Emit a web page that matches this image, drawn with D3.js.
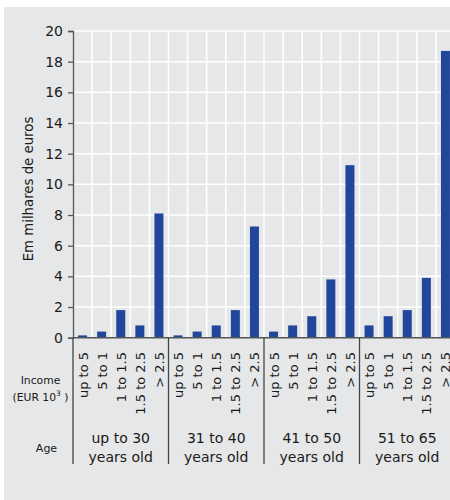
<!DOCTYPE html>
<html>
<head>
<meta charset="utf-8">
<script src="https://cdn.jsdelivr.net/npm/d3@7"></script>
<style>
  body { margin: 0; background: #fff; }
  svg text { font-family: "DejaVu Sans", sans-serif; fill: #1a1a1a; }
</style>
</head>
<body>
<div id="chart"></div>
<script>
// data
var incomeClasses = ['up to 5', '5 to 1', '1 to 1.5', '1.5 to 2.5', '> 2.5'];
var ageGroups = ['up to 30', '31 to 40', '41 to 50', '51 to 65'];
var ageSub = 'years old';
var age30 = [0.15, 0.4, 1.8, 0.8, 8.1];
var age40 = [0.15, 0.4, 0.8, 1.8, 7.25];
var age50 = [0.4, 0.8, 1.4, 3.8, 11.25];
var age65 = [0.8, 1.4, 1.8, 3.9, 18.7];
var yTicks = [0, 2, 4, 6, 8, 10, 12, 14, 16, 18, 20];

var seriesByAge = [age30, age40, age50, age65];
var rows = [];
ageGroups.forEach(function(g, gi){
  incomeClasses.forEach(function(c, ci){
    rows.push({key: g + '|' + c, group: gi, income: c, value: seriesByAge[gi][ci]});
  });
});

var W = 450, H = 500;
var plotL = 73, plotR = 455, plotT = 31, plotB = 337.7;

var svg = d3.select('#chart').append('svg')
  .attr('width', W).attr('height', H);

svg.append('rect')
  .attr('x', 4).attr('y', 7)
  .attr('width', W).attr('height', H)
  .attr('fill', '#e6e7e8');

var slot = d3.scaleBand()
  .domain(rows.map(function(d){ return d.key; }))
  .range([plotL, plotR])
  .padding(0);

var y = d3.scaleLinear().domain([0, 20]).range([plotB, plotT]);

var step = slot.step();
var barW = 9;

// grid
var grid = svg.append('g');
grid.selectAll('line.h')
  .data(yTicks.slice(1))
  .enter().append('line')
  .attr('x1', plotL).attr('x2', plotR)
  .attr('y1', function(d){ return y(d); })
  .attr('y2', function(d){ return y(d); })
  .attr('stroke', '#fff').attr('stroke-width', 1.5);
grid.selectAll('line.v')
  .data(rows.slice(1))
  .enter().append('line')
  .attr('x1', function(d){ return slot(d.key); })
  .attr('x2', function(d){ return slot(d.key); })
  .attr('y1', plotT).attr('y2', plotB)
  .attr('stroke', '#fff').attr('stroke-width', 1.5);

// bars
svg.append('g').selectAll('rect')
  .data(rows)
  .enter().append('rect')
  .attr('x', function(d){ return slot(d.key) + (step - barW) / 2; })
  .attr('width', barW)
  .attr('y', function(d){ return y(d.value); })
  .attr('height', function(d){ return y(0) - y(d.value); })
  .attr('fill', '#21469b');

// y axis
var yAxis = svg.append('g')
  .attr('transform', 'translate(' + plotL + ',0)')
  .call(d3.axisLeft(y).tickValues(yTicks).tickSize(5).tickPadding(5));
yAxis.select('.domain').attr('stroke', '#555').attr('stroke-width', 1.3);
yAxis.selectAll('.tick line').attr('stroke', '#555').attr('stroke-width', 1.3);
yAxis.selectAll('.tick text')
  .attr('font-family', 'DejaVu Sans').attr('font-size', 14).attr('fill', '#1a1a1a');

svg.append('text')
  .attr('transform', 'translate(33,189) rotate(-90)')
  .attr('text-anchor', 'middle')
  .attr('font-size', 13.3)
  .text('Em milhares de euros');

// x baseline
svg.append('line')
  .attr('x1', plotL).attr('x2', plotR)
  .attr('y1', plotB).attr('y2', plotB)
  .attr('stroke', '#555').attr('stroke-width', 1.5);

// category labels
svg.append('g').selectAll('text')
  .data(rows)
  .enter().append('text')
  .attr('transform', function(d){
    return 'translate(' + (slot(d.key) + step / 2 + 5) + ',352) rotate(-90)';
  })
  .attr('text-anchor', 'end')
  .attr('font-size', 13)
  .text(function(d){ return d.income; });

// group separators and labels
var groupStarts = ageGroups.map(function(g){ return slot(g + '|' + incomeClasses[0]); });
groupStarts.push(plotR);
svg.append('g').selectAll('line')
  .data(groupStarts)
  .enter().append('line')
  .attr('x1', function(d){ return d; }).attr('x2', function(d){ return d; })
  .attr('y1', plotB).attr('y2', 464)
  .attr('stroke', '#444').attr('stroke-width', 1.3);

var gl = svg.append('g').selectAll('text')
  .data(ageGroups)
  .enter().append('text')
  .attr('text-anchor', 'middle')
  .attr('font-size', 14)
  .attr('x', function(d, i){ return (groupStarts[i] + groupStarts[i + 1]) / 2; });
gl.append('tspan').attr('y', 443).text(function(d){ return d; });
gl.append('tspan').attr('y', 461.5)
  .attr('x', function(d, i){ return (groupStarts[i] + groupStarts[i + 1]) / 2; })
  .text(ageSub);

// row headers
svg.append('text')
  .attr('x', 40.5).attr('y', 384)
  .attr('text-anchor', 'middle').attr('font-size', 10.8)
  .text('Income');
var eur = svg.append('text')
  .attr('x', 40.5).attr('y', 401)
  .attr('text-anchor', 'middle').attr('font-size', 10.8);
eur.append('tspan').text('(EUR 10');
eur.append('tspan').attr('dy', -5).attr('font-size', 7.5).text('3');
eur.append('tspan').attr('dy', 5).text(' )');

svg.append('text')
  .attr('x', 46.5).attr('y', 451.5)
  .attr('text-anchor', 'middle').attr('font-size', 11)
  .text('Age');
</script>
</body>
</html>
